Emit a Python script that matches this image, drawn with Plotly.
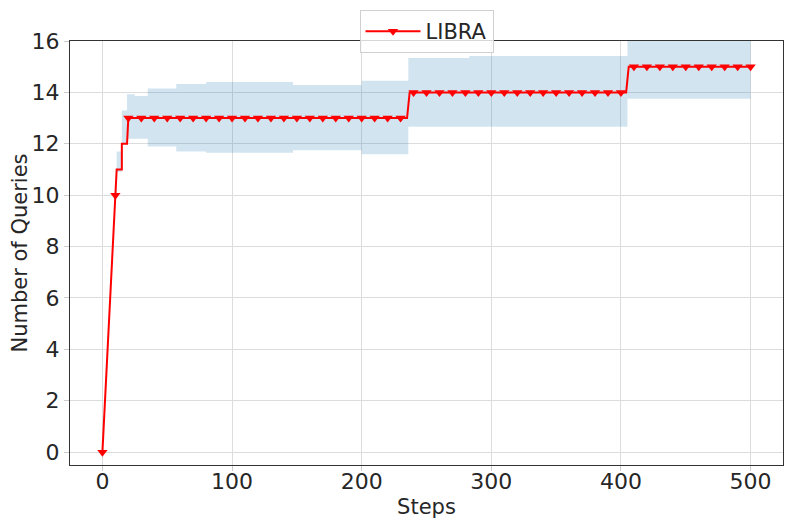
import plotly.graph_objects as go

# linea escalonada (puntos donde cambia el valor)
pasos_linea = [0, 10, 11, 15, 15, 19, 20, 235, 237, 404, 406, 500]
valores_linea = [0, 10, 11, 11, 12, 12, 13, 13, 14, 14, 15, 15]

# marcadores cada 10 pasos
pasos_marcas = list(range(0, 501, 10))
valores_marcas = [0, 10] + [13] * 22 + [14] * 17 + [15] * 10

# banda de incertidumbre
pasos_banda = [10, 11, 15, 19, 25, 35, 57, 80, 147, 200, 236, 283, 405, 500]
banda_sup = [10.3, 11.7, 13.3, 13.93, 13.86, 14.15, 14.33, 14.4, 14.29, 14.45, 15.34, 15.42, 16.4, 16.4]
banda_inf = [9.9, 10.9, 12.0, 12.2, 12.2, 11.89, 11.7, 11.65, 11.75, 11.59, 12.66, 12.66, 13.75, 13.75]

rojo = "#ff0000"
fig = go.Figure()

fig.add_trace(go.Scatter(x=pasos_banda, y=banda_inf, mode="lines", line=dict(width=0, shape="hv"),
                         showlegend=False, hoverinfo="skip"))
fig.add_trace(go.Scatter(x=pasos_banda, y=banda_sup, mode="lines", line=dict(width=0, shape="hv"),
                         fill="tonexty", fillcolor="rgba(31,119,180,0.2)",
                         showlegend=False, hoverinfo="skip"))

fig.add_trace(go.Scatter(x=pasos_linea, y=valores_linea, mode="lines",
                         line=dict(color=rojo, width=2), showlegend=False))
fig.add_trace(go.Scatter(x=pasos_marcas, y=valores_marcas, mode="markers",
                         marker=dict(symbol="triangle-down", size=9, color=rojo),
                         showlegend=False))
# entrada de leyenda
fig.add_trace(go.Scatter(x=[None], y=[None], mode="lines+markers", name="LIBRA",
                         line=dict(color=rojo, width=2),
                         marker=dict(symbol="triangle-down", size=9, color=rojo)))

eje = dict(showgrid=True, gridcolor="#dcdcdc", gridwidth=1, zeroline=False,
           showline=True, linecolor="#333333", linewidth=1.2, mirror=True,
           ticks="outside", ticklen=5, tickcolor="#cccccc", automargin=False,
           tickfont=dict(size=22, color="#262626"))

# la pagina tiene 8px de margen, por eso la figura es algo menor que la ventana
fig.update_layout(
    width=777, height=513,
    margin=dict(l=62, r=2, t=33, b=56),
    plot_bgcolor="white", paper_bgcolor="white",
    font=dict(family="DejaVu Sans", color="#262626"),
    xaxis=dict(eje, range=[-25, 525], tickvals=[0, 100, 200, 300, 400, 500],
               ticklabelstandoff=-9,
               title=dict(text="Steps", font=dict(size=21), standoff=6)),
    yaxis=dict(eje, range=[-0.5, 16], tickvals=list(range(0, 17, 2)),
               title=dict(text="Number of Queries", font=dict(size=21), standoff=2)),
    legend=dict(x=0.5, xanchor="center", y=1.073, yanchor="top", itemwidth=55,
                bgcolor="rgba(255,255,255,0.8)", bordercolor="#d0d0d0", borderwidth=1,
                font=dict(size=21)),
)

fig.write_html("out.html")
